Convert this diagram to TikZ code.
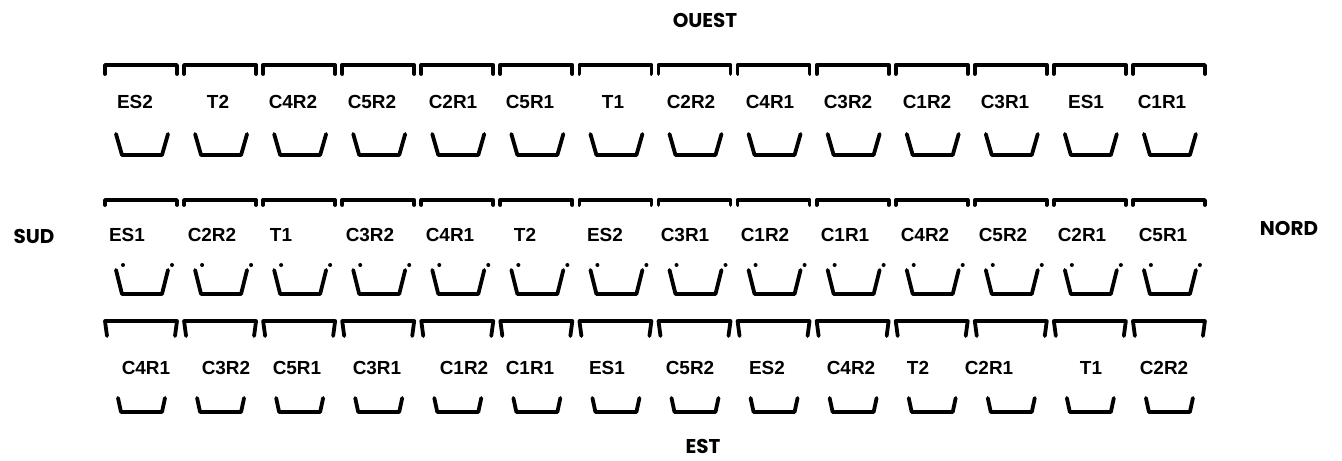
\documentclass[tikz,border=0pt]{standalone}
\usepackage{fontspec}
\setmainfont{Liberation Sans}
\newfontfamily\dirfont{Poppins}
\tikzset{
  shp/.style={line width=3.8pt, line join=round, line cap=round, black},
  lbl/.style={font=\fontsize{19}{19}\selectfont\bfseries, inner sep=0pt, anchor=center},
  dir/.style={font=\dirfont\fontsize{20}{20}\selectfont\bfseries, inner sep=0pt, anchor=center},
}
\begin{document}
\begin{tikzpicture}[x=1bp,y=-1bp]
\useasboundingbox (0,0) rectangle (1342,461);
% brackets and cups
\foreach \i in {0,...,13}{
  \pgfmathsetmacro{\xo}{105+79.07*\i}
  % top row
  \draw[shp] (\xo,74) -- (\xo,65) -- (\xo+72,65) -- (\xo+72,74);
  \draw[shp] (\xo+11,134) -- (\xo+17,155) -- (\xo+57,155) -- (\xo+63,134);
  % middle row
  \draw[shp] (\xo,205) -- (\xo,200) -- (\xo+72,200) -- (\xo+72,205);
  \draw[shp] (\xo+11,270) -- (\xo+17,294) -- (\xo+57,294) -- (\xo+63,270);
  \fill (\xo+18,265) circle (2);
  \fill (\xo+67,265) circle (2);
  % bottom row
  \draw[shp] (\xo+2,336) -- (\xo,321) -- (\xo+72,321) -- (\xo+70,336);
  \draw[shp] (\xo+13,398) -- (\xo+16,412) -- (\xo+57,412) -- (\xo+60,398);
}
% top row labels
\foreach \x/\t [count=\k] in {135/ES2,218/T2,293/C4R2,372/C5R2,453/C2R1,530/C5R1,613/T1,691/C2R2,770/C4R1,848/C3R2,927/C1R2,1005/C3R1,1086/ES1,1162/C1R1}
  \node[lbl] (a\k) at (\x,102) {\t};
% middle row labels
\foreach \x/\t [count=\k] in {127/ES1,212/C2R2,281/T1,370/C3R2,450/C4R1,525/T2,605/ES2,685/C3R1,765/C1R2,845/C1R1,925/C4R2,1003/C5R2,1082/C2R1,1163/C5R1}
  \node[lbl] (b\k) at (\x,235) {\t};
% bottom row labels
\foreach \x/\t [count=\k] in {146/C4R1,226/C3R2,297/C5R1,377/C3R1,464/C1R2,530/C1R1,607/ES1,690/C5R2,767/ES2,851/C4R2,918/T2,989/C2R1,1091/T1,1164/C2R2}
  \node[lbl] (c\k) at (\x,368) {\t};
% directions
\node[dir] (ouest) at (705,20) {OUEST};
\node[dir] (sud) at (34,236) {SUD};
\node[dir] (nord) at (1289,228) {NORD};
\node[dir] (est) at (703,446) {EST};
\end{tikzpicture}
\end{document}
